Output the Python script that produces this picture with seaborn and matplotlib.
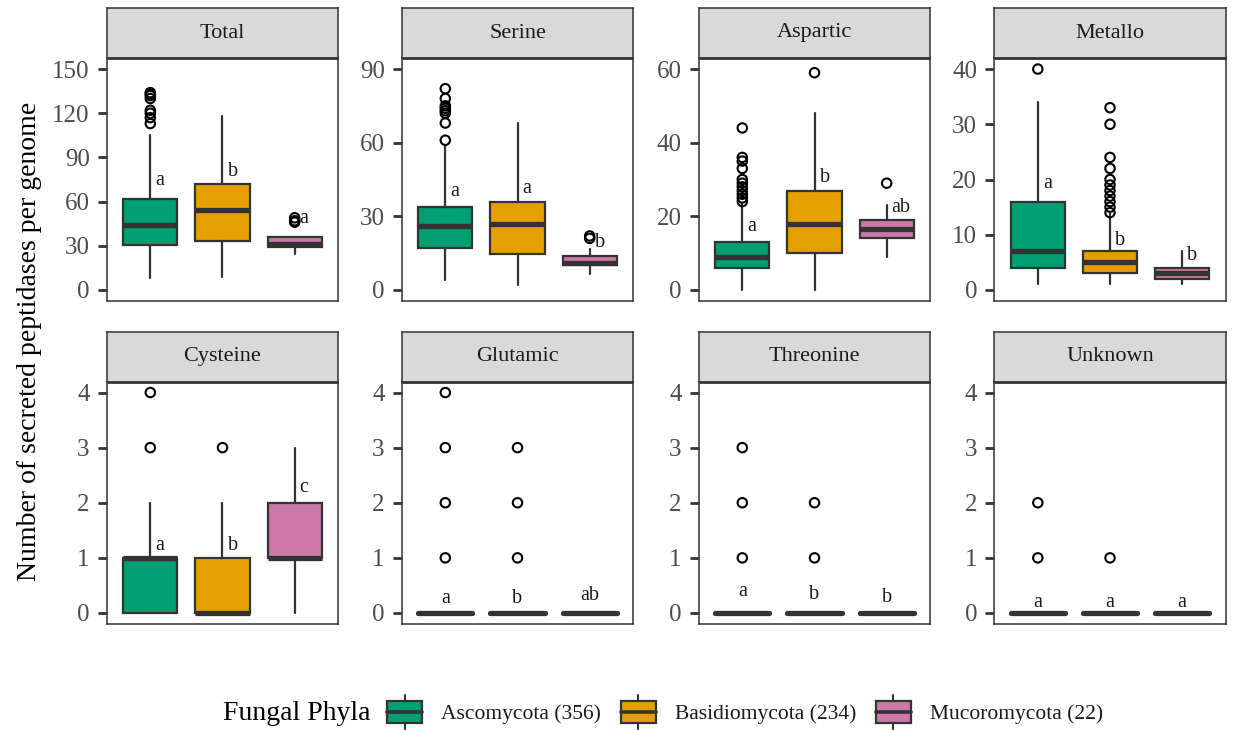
import matplotlib
matplotlib.use("Agg")
import matplotlib.pyplot as plt
import numpy as np
import pandas as pd
import seaborn as sns
from matplotlib.legend_handler import HandlerBase
from matplotlib.patches import Rectangle, Patch
from matplotlib.lines import Line2D

sns.set_theme(style="white")
plt.rcParams["font.family"] = ["Liberation Serif", "DejaVu Serif"]

# ---- data -----------------------------------------------------------------
phyla = ["Ascomycota (356)", "Basidiomycota (234)", "Mucoromycota (22)"]
phylum_colors = ["#009E73", "#E69F00", "#CC79A7"]

peptidase_classes = ["Total", "Serine", "Aspartic", "Metallo",
                     "Cysteine", "Glutamic", "Threonine", "Unknown"]

# box-plot summaries per class, one value per phylum
lower_whisker = [
    [8, 8.5, 24.5],
    [4, 2, 6.5],
    [0, 0, 9],
    [1, 1, 1],
    [0, 0, 0],
    [0, 0, 0],
    [0, 0, 0],
    [0, 0, 0],
]
first_quartile = [
    [30.5, 33, 29.5],
    [17, 14.5, 10],
    [6, 10, 14],
    [4, 3, 2],
    [0, 0, 1],
    [0, 0, 0],
    [0, 0, 0],
    [0, 0, 0],
]
median = [
    [44, 54, 31.5],
    [26, 27, 11],
    [9, 18, 16.5],
    [7, 5, 3],
    [1, 0, 1],
    [0, 0, 0],
    [0, 0, 0],
    [0, 0, 0],
]
third_quartile = [
    [62, 72, 36],
    [34, 36, 14],
    [13, 27, 19],
    [16, 7, 4],
    [1, 1, 2],
    [0, 0, 0],
    [0, 0, 0],
    [0, 0, 0],
]
upper_whisker = [
    [105, 118, 36],
    [59, 68, 16.5],
    [23.5, 48, 23],
    [34, 14, 7],
    [2, 2, 3],
    [0, 0, 0],
    [0, 0, 0],
    [0, 0, 0],
]
outliers = [
    [[113, 117, 120, 122, 130, 132, 133, 134], [], [46, 47, 49]],
    [[61, 68, 72, 73, 74, 75, 78, 82], [], [21, 22]],
    [[24, 25, 26, 27, 28, 29, 30, 33, 35, 36, 44], [59], [29]],
    [[40], [14, 15, 16, 17, 18, 19, 20, 22, 24, 30, 33], []],
    [[3, 4], [3], []],
    [[1, 2, 3, 4], [1, 2, 3], []],
    [[1, 2, 3], [1, 2], []],
    [[1, 2], [1], []],
]

# significance letters and the height of their baseline
letters = [
    ["a", "b", "a"],
    ["a", "a", "b"],
    ["a", "b", "ab"],
    ["a", "b", "b"],
    ["a", "b", "c"],
    ["a", "b", "ab"],
    ["a", "b", "b"],
    ["a", "a", "a"],
]
letter_y = [
    [71, 77.7, 45.3],
    [38.3, 39.3, 17.3],
    [15.9, 29.3, 21.3],
    [18.4, 8.2, 5.4],
    [1.15, 1.15, 2.2],
    [0.19, 0.19, 0.235],
    [0.30, 0.26, 0.20],
    [0.115, 0.115, 0.115],
]

axis_top = [150, 90, 60, 40, 4, 4, 4, 4]
axis_step = [30, 30, 20, 10, 1, 1, 1, 1]

# ---- layout ---------------------------------------------------------------
W, H = 1235, 730
fig = plt.figure(figsize=(W / 100, H / 100), dpi=100)
fig.patch.set_facecolor("white")

col_left = [107, 402, 699, 994.5]
panel_w = 231
rows = [(58, 301), (381.5, 624)]
strip_h = 50

EDGE = "#333333"


def frac_rect(x0, y_top, w, h):
    return [x0 / W, 1 - (y_top + h) / H, w / W, h / H]


positions = [1, 2, 3]

for k, name in enumerate(peptidase_classes):
    r, c = divmod(k, 4)
    y_top, y_bot = rows[r]
    ax = fig.add_axes(frac_rect(col_left[c], y_top, panel_w, y_bot - y_top))
    sax = fig.add_axes(frac_rect(col_left[c], y_top - strip_h, panel_w, strip_h))

    stats = []
    for i in range(3):
        stats.append(dict(whislo=lower_whisker[k][i], q1=first_quartile[k][i],
                          med=median[k][i], q3=third_quartile[k][i],
                          whishi=upper_whisker[k][i], fliers=[]))
    flat = third_quartile[k][0] == first_quartile[k][0]
    bp = ax.bxp(stats, positions=positions, widths=0.75, patch_artist=True,
                showfliers=False, showcaps=False,
                boxprops=dict(edgecolor=EDGE, linewidth=1.6),
                medianprops=dict(color=EDGE, linewidth=3.8,
                                 solid_capstyle="round" if flat else "butt"),
                whiskerprops=dict(color=EDGE, linewidth=1.6))
    for patch, col in zip(bp["boxes"], phylum_colors):
        patch.set_facecolor(col)

    # outlying genomes
    pts = pd.DataFrame([(positions[i], v) for i in range(3) for v in outliers[k][i]],
                       columns=["phylum", "count"])
    if len(pts):
        sns.scatterplot(data=pts, x="phylum", y="count", ax=ax, marker="o",
                        s=46, facecolor="none", edgecolor="black",
                        linewidth=1.5, zorder=5, legend=False)

    # letters of the post-hoc groups
    for i in range(3):
        if r == 0 or c == 0:
            ax.text(positions[i] + 0.07, letter_y[k][i], letters[k][i],
                    ha="left", va="baseline", fontsize=14.5, color="#1A1A1A")
        else:
            ax.text(positions[i], letter_y[k][i], letters[k][i],
                    ha="center", va="baseline", fontsize=14.5, color="#1A1A1A")

    top = axis_top[k]
    ax.set_xlim(0.4, 3.6)
    ax.set_ylim(-0.05 * top, 1.05 * top)
    ax.set_yticks(np.arange(0, top + axis_step[k] / 2, axis_step[k]))
    ax.set_xticks([])
    ax.set_xlabel("")
    ax.set_ylabel("")
    ax.tick_params(axis="y", left=True, length=6.5, width=2.0, color=EDGE,
                   labelcolor="#4D4D4D", labelsize=18, pad=6)
    ax.set_facecolor("white")
    for sp in ax.spines.values():
        sp.set_color(EDGE)
        sp.set_linewidth(1.1)
        sp.set_visible(True)

    sax.set_facecolor("#D9D9D9")
    sax.set_xticks([])
    sax.set_yticks([])
    for sp in sax.spines.values():
        sp.set_color(EDGE)
        sp.set_linewidth(1.1)
        sp.set_visible(True)
    sax.spines["bottom"].set_linewidth(2.0)
    sax.spines["bottom"].set_capstyle("butt")
    sax.text(0.5, 0.5, name, transform=sax.transAxes, ha="center", va="center",
             fontsize=16, color="#1A1A1A")

fig.text(30 / W, 1 - 341 / H, "Number of secreted peptidases per genome",
         rotation=90, ha="center", va="center", fontsize=20, color="black")


# ---- legend -----------------------------------------------------------------
class BoxKeyHandler(HandlerBase):
    def create_artists(self, legend, orig_handle, xdescent, ydescent,
                       width, height, fontsize, trans):
        x0, y0 = -xdescent, -ydescent
        bh = height * 0.66
        by = y0 + (height - bh) / 2
        whisk = Line2D([x0 + width / 2] * 2, [y0, y0 + height], color=EDGE,
                       lw=1.5, transform=trans)
        rect = Rectangle((x0, by), width, bh, facecolor=orig_handle.get_facecolor(),
                         edgecolor=EDGE, linewidth=1.6, transform=trans)
        med = Line2D([x0, x0 + width], [y0 + height / 2] * 2, color=EDGE,
                     lw=2.6, transform=trans)
        return [whisk, rect, med]


handles = [Patch(facecolor=col) for col in phylum_colors]
fig.legend(handles=handles, labels=phyla, handler_map={Patch: BoxKeyHandler()},
           ncol=3, loc="center left", bbox_to_anchor=(387 / W, 1 - 712 / H),
           frameon=False, borderpad=0, borderaxespad=0, handlelength=1.63,
           handleheight=2.1, handletextpad=0.9, columnspacing=0.9,
           fontsize=15.5, labelcolor="#1A1A1A")
fig.text(223 / W, 1 - 714 / H, "Fungal Phyla", ha="left", va="center",
         fontsize=20, color="black")

fig.savefig("out.png", dpi=100, facecolor="white")
